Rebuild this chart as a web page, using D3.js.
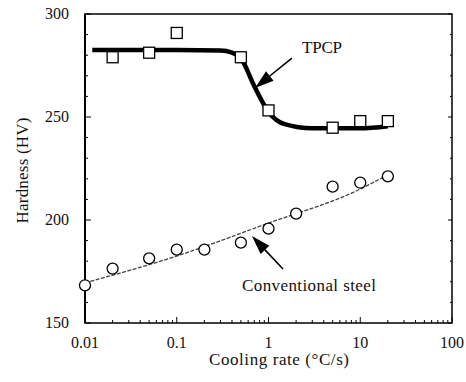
<!DOCTYPE html>
<html>
<head>
<meta charset="utf-8">
<script src="https://cdn.jsdelivr.net/npm/d3@7"></script>
<style>
  body { margin: 0; background: #fff; }
</style>
</head>
<body>
<div id="chart"></div>
<script>
// data
const tpcpRates = [0.02, 0.05, 0.1, 0.5, 1, 5, 10, 20];
const tpcpHardness = [279, 281.2, 290.8, 279, 253.2, 244.8, 248, 248];
const tpcpCurveRates = [0.012, 0.1, 0.3, 0.4, 0.5, 0.7, 1, 1.5, 3, 10, 20];
const tpcpCurveHardness = [282.5, 282.5, 282.3, 281.3, 278.5, 265, 252.5, 246.5, 244.5, 244.5, 245.5];
const convRates = [0.01, 0.02, 0.05, 0.1, 0.2, 0.5, 1, 2, 5, 10, 20];
const convHardness = [168.3, 176.4, 181.4, 185.6, 185.6, 189, 195.8, 203.1, 216.2, 218.1, 221.2];
const convLineRates = [0.01, 0.1, 1, 10, 20];
const convLineHardness = [169.5, 182.5, 198.5, 215, 222];
const xTicks = [0.01, 0.1, 1, 10, 100];
const xTickLabels = ['0.01', '0.1', '1', '10', '100'];
const yTicks = [150, 200, 250, 300];

const FONT = '"Liberation Serif", "Times New Roman", "DejaVu Serif", serif';
const W = 466, H = 382;
const margin = { top: 14, right: 14, bottom: 59, left: 85 };
const width = W - margin.left - margin.right;
const height = H - margin.top - margin.bottom;

const svg = d3.select('#chart').append('svg')
    .attr('width', W)
    .attr('height', H)
    .attr('font-family', FONT);

const g = svg.append('g')
    .attr('transform', `translate(${margin.left}, ${margin.top})`);

const x = d3.scaleLog().domain([0.01, 100]).range([0, width]);
const y = d3.scaleLinear().domain([150, 300]).range([height, 0]);

// frame
g.append('rect')
    .attr('width', width).attr('height', height)
    .attr('fill', 'none').attr('stroke', '#000').attr('stroke-width', 1.5);
g.append('line').attr('x1', 0).attr('x2', 0).attr('y1', 0).attr('y2', height)
    .attr('stroke', '#000').attr('stroke-width', 2);

// minor x ticks (log)
let minorX = [];
for (let e = -2; e < 2; e++) {
    for (let k = 1; k < 10; k++) minorX.push(k * Math.pow(10, e));
}
minorX.push(100);
g.selectAll('.xtick').data(minorX).enter().append('line')
    .attr('x1', d => x(d)).attr('x2', d => x(d))
    .attr('y1', height)
    .attr('y2', d => height - (xTicks.some(t => Math.abs(t - d) < 1e-9) ? 6 : 3))
    .attr('stroke', '#000').attr('stroke-width', 1);

// y ticks every 10, both sides
const minorY = d3.range(150, 301, 10);
g.selectAll('.ytick').data(minorY).enter().append('line')
    .attr('x1', 0).attr('x2', d => d % 50 === 0 ? 6 : 3)
    .attr('y1', d => y(d)).attr('y2', d => y(d))
    .attr('stroke', '#000').attr('stroke-width', 1);
g.selectAll('.ytickr').data(minorY).enter().append('line')
    .attr('x1', width).attr('x2', d => width - (d % 50 === 0 ? 4 : 2))
    .attr('y1', d => y(d)).attr('y2', d => y(d))
    .attr('stroke', '#000').attr('stroke-width', 1);

// tick labels
g.selectAll('.xlab').data(xTicks).enter().append('text')
    .attr('x', d => x(d)).attr('y', height + 25)
    .attr('text-anchor', 'middle').attr('font-size', 16).attr('fill', '#111')
    .text((d, i) => xTickLabels[i]);
g.selectAll('.ylab').data(yTicks).enter().append('text')
    .attr('x', -16).attr('y', d => y(d) + 5)
    .attr('text-anchor', 'end').attr('font-size', 16).attr('fill', '#111')
    .text(d => d);

// axis titles
g.append('text')
    .attr('x', width / 2 + 10.5).attr('y', height + 42)
    .attr('text-anchor', 'middle').attr('font-size', 17).attr('fill', '#111')
    .attr('textLength', 140).attr('lengthAdjust', 'spacing')
    .text('Cooling rate (°C/s)');
g.append('text')
    .attr('transform', `translate(${-57}, ${height / 2 + 2}) rotate(-90)`)
    .attr('text-anchor', 'middle').attr('font-size', 17).attr('fill', '#111')
    .attr('textLength', 106).attr('lengthAdjust', 'spacing')
    .text('Hardness (HV)');

// conventional fit line
const lineGen = d3.line().x(d => x(d[0])).y(d => y(d[1])).curve(d3.curveMonotoneX);
g.append('path')
    .datum(convLineRates.map((r, i) => [r, convLineHardness[i]]))
    .attr('d', lineGen)
    .attr('fill', 'none').attr('stroke', '#444').attr('stroke-width', 1.3)
    .attr('stroke-dasharray', '4,1.5');

// TPCP curve
g.append('path')
    .datum(tpcpCurveRates.map((r, i) => [r, tpcpCurveHardness[i]]))
    .attr('d', lineGen)
    .attr('fill', 'none').attr('stroke', '#000').attr('stroke-width', 4.5)
    .attr('stroke-linejoin', 'round');

// markers
g.selectAll('.sq').data(tpcpRates).enter().append('rect')
    .attr('x', d => x(d) - 5.5)
    .attr('y', (d, i) => y(tpcpHardness[i]) - 5.5)
    .attr('width', 11).attr('height', 11)
    .attr('fill', '#fff').attr('stroke', '#000').attr('stroke-width', 1.3);
g.selectAll('.ci').data(convRates).enter().append('circle')
    .attr('cx', d => x(d))
    .attr('cy', (d, i) => y(convHardness[i]))
    .attr('r', 5.5)
    .attr('fill', '#fff').attr('stroke', '#000').attr('stroke-width', 1.3);

// arrows, given in data coordinates (start -> tip)
function arrow(r1, h1, r2, h2) {
    const x1 = x(r1), y1 = y(h1), x2 = x(r2), y2 = y(h2);
    const ang = Math.atan2(y2 - y1, x2 - x1);
    const len = 19, half = 6;
    const bx = x2 - len * Math.cos(ang), by = y2 - len * Math.sin(ang);
    g.append('line').attr('x1', x1).attr('y1', y1).attr('x2', bx).attr('y2', by)
        .attr('stroke', '#000').attr('stroke-width', 1.6);
    const px = -Math.sin(ang) * half, py = Math.cos(ang) * half;
    g.append('path')
        .attr('d', `M${x2},${y2}L${bx + px},${by + py}L${bx - px},${by - py}Z`)
        .attr('fill', '#000');
}
arrow(1.8, 278.6, 0.713, 264.1);
arrow(1.44, 176.2, 0.66, 192.2);

// annotations
g.append('text').attr('x', x(2.32)).attr('y', y(281))
    .attr('font-size', 17).attr('fill', '#111')
    .attr('textLength', 40).attr('lengthAdjust', 'spacing').text('TPCP');
g.append('text').attr('x', x(0.514)).attr('y', y(165.3))
    .attr('font-size', 17).attr('fill', '#111')
    .attr('textLength', 134).attr('lengthAdjust', 'spacing').text('Conventional steel');
</script>
</body>
</html>
